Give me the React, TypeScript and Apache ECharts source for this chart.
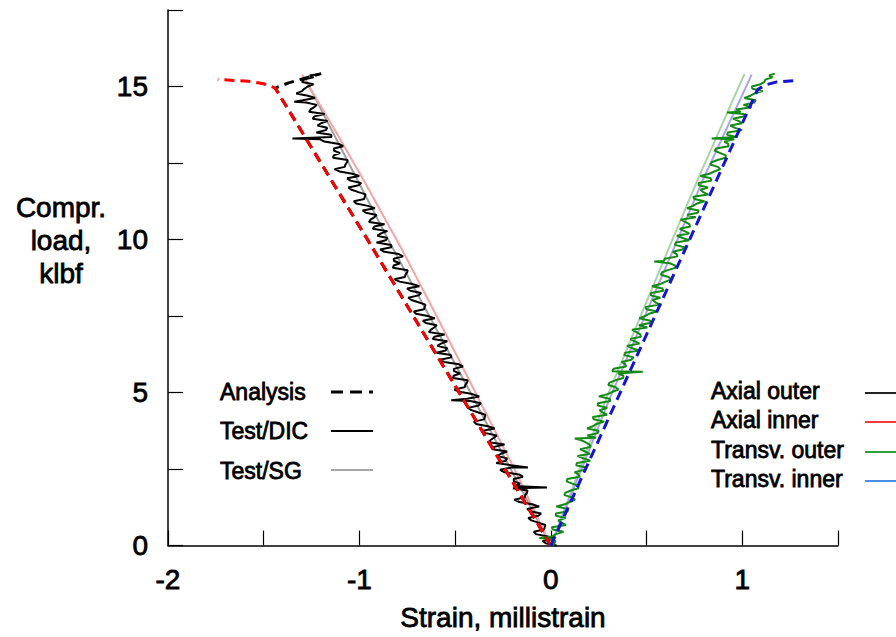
import React, { useEffect, useRef } from "react";
import * as echarts from "echarts";

// ---- Axis / tick data ----
const xTickLabels = [-2, -1, 0, 1];
const yTickLabels = [0, 5, 10, 15];

// ---- Analysis (dashed) : [strain, load] ----
const analysisAxialOuter = [
  [0, 0], [-0.479, 5], [-0.958, 10], [-1.44, 14.95], [-1.37, 15.12], [-1.28, 15.28], [-1.2, 15.42],
];
const analysisAxialInner = [
  [0, 0], [-0.479, 5], [-0.958, 10], [-1.44, 14.95], [-1.5, 15.09], [-1.58, 15.17], [-1.74, 15.23],
];
const analysisTransvInner = [
  [0, 0], [0.3625, 5], [0.725, 10], [1.08, 14.9], [1.12, 15.05], [1.18, 15.15], [1.29, 15.2],
];

// ---- Test / SG (light solid) ----
const sgAxialOuter = [[0, 0], [-0.21, 2.5], [-0.42, 5.0], [-0.85, 10.0], [-1.283, 15.25]];
const sgAxialInner = [
  [0, 0], [-0.19, 2.5], [-0.381, 4.84], [-0.58, 7.3], [-0.78, 9.7], [-0.98, 11.96], [-1.14, 13.7], [-1.3, 15.39],
];
const sgTransvOuter = [[0, 0], [0.15, 2.5], [0.292, 4.84], [0.635, 10.0], [0.767, 11.96], [1.012, 15.42]];
const sgTransvInner = [[0, 0], [0.16, 2.5], [0.31, 4.84], [0.662, 10.0], [0.8, 12.03], [1.049, 15.39]];

// ---- Test / DIC (noisy solid) : [strain, load] ----
const dicAxialOuter = [
  [0.03, 0], [-0.027, 0.075], [-0.043, 0.15], [0.02, 0.225], [-0.016, 0.3], [-0.078, 0.375], [-0.089, 0.45],
  [-0.036, 0.525], [-0.032, 0.6], [-0.029, 0.675], [-0.065, 0.75], [-0.102, 0.825], [-0.118, 0.9],
  [-0.065, 0.975], [-0.051, 1.05], [-0.108, 1.125], [-0.124, 1.2], [-0.061, 1.275], [-0.097, 1.35],
  [-0.164, 1.425], [-0.191, 1.5], [-0.137, 1.575], [-0.134, 1.65], [-0.125, 1.725], [-0.122, 1.8],
  [-0.198, 1.875], [-0.02, 1.9], [-0.195, 1.95], [-0.161, 2.025], [-0.193, 2.1], [-0.194, 2.175],
  [-0.146, 2.25], [-0.167, 2.325], [-0.244, 2.4], [-0.265, 2.475], [-0.207, 2.55], [-0.12, 2.55],
  [-0.208, 2.625], [-0.285, 2.7], [-0.236, 2.775], [-0.228, 2.85], [-0.279, 2.925], [-0.261, 3.0],
  [-0.228, 3.075], [-0.304, 3.15], [-0.296, 3.225], [-0.242, 3.3], [-0.324, 3.375], [-0.315, 3.45],
  [-0.297, 3.525], [-0.283, 3.6], [-0.34, 3.675], [-0.356, 3.75], [-0.293, 3.825], [-0.329, 3.9],
  [-0.391, 3.975], [-0.402, 4.05], [-0.349, 4.125], [-0.345, 4.2], [-0.342, 4.275], [-0.378, 4.35],
  [-0.415, 4.425], [-0.432, 4.5], [-0.378, 4.575], [-0.365, 4.65], [-0.421, 4.725], [-0.52, 4.75],
  [-0.438, 4.8], [-0.374, 4.875], [-0.411, 4.95], [-0.477, 5.025], [-0.504, 5.1], [-0.45, 5.175],
  [-0.447, 5.25], [-0.438, 5.325], [-0.435, 5.4], [-0.511, 5.475], [-0.508, 5.55], [-0.474, 5.625],
  [-0.506, 5.7], [-0.507, 5.775], [-0.459, 5.85], [-0.48, 5.925], [-0.557, 6.0], [-0.579, 6.075],
  [-0.52, 6.15], [-0.522, 6.225], [-0.598, 6.3], [-0.55, 6.375], [-0.541, 6.45], [-0.593, 6.525],
  [-0.574, 6.6], [-0.541, 6.675], [-0.617, 6.75], [-0.609, 6.825], [-0.555, 6.9], [-0.637, 6.975],
  [-0.628, 7.05], [-0.61, 7.125], [-0.596, 7.2], [-0.653, 7.275], [-0.669, 7.35], [-0.606, 7.425],
  [-0.643, 7.5], [-0.704, 7.575], [-0.716, 7.65], [-0.662, 7.725], [-0.659, 7.8], [-0.655, 7.875],
  [-0.692, 7.95], [-0.728, 8.025], [-0.745, 8.1], [-0.691, 8.175], [-0.678, 8.25], [-0.734, 8.325],
  [-0.751, 8.4], [-0.687, 8.475], [-0.724, 8.55], [-0.79, 8.625], [-0.817, 8.7], [-0.763, 8.775],
  [-0.76, 8.85], [-0.751, 8.925], [-0.748, 9.0], [-0.825, 9.075], [-0.821, 9.15], [-0.788, 9.225],
  [-0.819, 9.3], [-0.821, 9.375], [-0.772, 9.45], [-0.794, 9.525], [-0.87, 9.6], [-0.892, 9.675],
  [-0.833, 9.75], [-0.835, 9.825], [-0.911, 9.9], [-0.863, 9.975], [-0.854, 10.05], [-0.906, 10.125],
  [-0.887, 10.2], [-0.854, 10.275], [-0.93, 10.35], [-0.922, 10.425], [-0.869, 10.5], [-0.95, 10.575],
  [-0.942, 10.65], [-0.923, 10.725], [-0.91, 10.8], [-0.966, 10.875], [-0.983, 10.95], [-0.919, 11.025],
  [-0.956, 11.1], [-1.017, 11.175], [-1.029, 11.25], [-0.975, 11.325], [-0.972, 11.4], [-0.968, 11.475],
  [-1.005, 11.55], [-1.041, 11.625], [-1.058, 11.7], [-1.004, 11.775], [-0.991, 11.85], [-1.047, 11.925],
  [-1.064, 12.0], [-1.001, 12.075], [-1.037, 12.15], [-1.104, 12.225], [-1.13, 12.3], [-1.077, 12.375],
  [-1.073, 12.45], [-1.065, 12.525], [-1.061, 12.6], [-1.138, 12.675], [-1.134, 12.75], [-1.101, 12.825],
  [-1.132, 12.9], [-1.134, 12.975], [-1.085, 13.05], [-1.107, 13.125], [-1.183, 13.2], [-1.205, 13.275],
  [-1.35, 13.3], [-1.146, 13.35], [-1.148, 13.425], [-1.225, 13.5], [-1.176, 13.575], [-1.168, 13.65],
  [-1.219, 13.725], [-1.201, 13.8], [-1.167, 13.875], [-1.244, 13.95], [-1.235, 14.025], [-1.182, 14.1],
  [-1.263, 14.175], [-1.255, 14.25], [-1.236, 14.325], [-1.223, 14.4], [-1.279, 14.475], [-1.34, 14.5],
  [-1.296, 14.55], [-1.232, 14.625], [-1.269, 14.7], [-1.33, 14.775], [-1.3, 14.85], [-1.288, 14.925],
  [-1.27, 15.0], [-1.24, 15.075], [-1.3, 15.15], [-1.29, 15.225], [-1.24, 15.3], [-1.26, 15.36], [-1.2, 15.42],
];
const dicTransvOuter = [
  [0.01, 0], [0.019, 0.075], [0.024, 0.15], [-0.007, 0.225], [-0.06, 0.25], [0.007, 0.3], [0.027, 0.375],
  [0.066, 0.45], [0.01, 0.525], [0.005, 0.6], [0.079, 0.675], [0.054, 0.75], [0.038, 0.825], [0.077, 0.9],
  [0.027, 0.975], [0.026, 1.05], [0.09, 1.125], [0.085, 1.2], [0.029, 1.275], [0.073, 1.35], [0.098, 1.425],
  [0.127, 1.5], [0.111, 1.575], [0.071, 1.65], [0.075, 1.725], [0.104, 1.8], [0.144, 1.875], [0.143, 1.95],
  [0.112, 2.025], [0.082, 2.1], [0.086, 2.175], [0.151, 2.25], [0.145, 2.325], [0.124, 2.4], [0.174, 2.475],
  [0.183, 2.55], [0.132, 2.625], [0.137, 2.7], [0.206, 2.775], [0.17, 2.85], [0.14, 2.925], [0.204, 3.0],
  [0.179, 3.075], [0.153, 3.15], [0.208, 3.225], [0.202, 3.3], [0.182, 3.375], [0.156, 3.45], [0.125, 3.5],
  [0.236, 3.525], [0.191, 3.6], [0.245, 3.675], [0.25, 3.75], [0.189, 3.825], [0.219, 3.9], [0.238, 3.975],
  [0.279, 4.05], [0.224, 4.125], [0.219, 4.2], [0.294, 4.275], [0.27, 4.35], [0.255, 4.425], [0.295, 4.5],
  [0.245, 4.575], [0.246, 4.65], [0.311, 4.725], [0.306, 4.8], [0.251, 4.875], [0.297, 4.95], [0.322, 5.025],
  [0.353, 5.1], [0.339, 5.175], [0.3, 5.25], [0.306, 5.325], [0.337, 5.4], [0.378, 5.475], [0.379, 5.55],
  [0.35, 5.625], [0.48, 5.68], [0.321, 5.7], [0.327, 5.775], [0.393, 5.85], [0.389, 5.925], [0.37, 6.0],
  [0.421, 6.075], [0.432, 6.15], [0.383, 6.225], [0.389, 6.3], [0.46, 6.375], [0.426, 6.45], [0.397, 6.525],
  [0.463, 6.6], [0.439, 6.675], [0.415, 6.75], [0.471, 6.825], [0.467, 6.9], [0.448, 6.975], [0.424, 7.05],
  [0.504, 7.125], [0.46, 7.2], [0.516, 7.275], [0.521, 7.35], [0.462, 7.425], [0.493, 7.5], [0.513, 7.575],
  [0.554, 7.65], [0.499, 7.725], [0.495, 7.8], [0.571, 7.875], [0.546, 7.95], [0.532, 8.025], [0.572, 8.1],
  [0.522, 8.175], [0.523, 8.25], [0.588, 8.325], [0.583, 8.4], [0.528, 8.475], [0.574, 8.55], [0.599, 8.625],
  [0.629, 8.7], [0.614, 8.775], [0.575, 8.85], [0.58, 8.925], [0.61, 9.0], [0.65, 9.075], [0.651, 9.15],
  [0.621, 9.225], [0.54, 9.28], [0.591, 9.3], [0.596, 9.375], [0.662, 9.45], [0.657, 9.525], [0.637, 9.6],
  [0.687, 9.675], [0.698, 9.75], [0.648, 9.825], [0.653, 9.9], [0.723, 9.975], [0.688, 10.05], [0.658, 10.125],
  [0.723, 10.2], [0.698, 10.275], [0.673, 10.35], [0.728, 10.425], [0.723, 10.5], [0.702, 10.575],
  [0.677, 10.65], [0.757, 10.725], [0.712, 10.8], [0.767, 10.875], [0.772, 10.95], [0.712, 11.025],
  [0.742, 11.1], [0.763, 11.175], [0.803, 11.25], [0.749, 11.325], [0.744, 11.4], [0.821, 11.475],
  [0.795, 11.55], [0.782, 11.625], [0.821, 11.7], [0.773, 11.775], [0.772, 11.85], [0.839, 11.925],
  [0.835, 12.0], [0.781, 12.075], [0.828, 12.15], [0.854, 12.225], [0.885, 12.3], [0.872, 12.375],
  [0.833, 12.45], [0.84, 12.525], [0.871, 12.6], [0.912, 12.675], [0.914, 12.75], [0.885, 12.825],
  [0.856, 12.9], [0.863, 12.975], [0.929, 13.05], [0.926, 13.125], [0.906, 13.2], [0.958, 13.275],
  [0.84, 13.3], [0.968, 13.35], [0.921, 13.425], [0.925, 13.5], [0.999, 13.575], [0.962, 13.65],
  [0.937, 13.725], [0.999, 13.8], [0.979, 13.875], [0.951, 13.95], [1.012, 14.025], [1.009, 14.1],
  [0.92, 14.15], [0.991, 14.175], [0.968, 14.25], [1.049, 14.325], [1.006, 14.4], [1.063, 14.475],
  [1.07, 14.55], [1.011, 14.625], [1.043, 14.7], [1.065, 14.775], [1.107, 14.85], [1.053, 14.925],
  [1.05, 15.0], [1.095, 15.075], [1.116, 15.15], [1.12, 15.225], [1.158, 15.3], [1.14, 15.36], [1.17, 15.42],
];

// ---- Legends ----
const legendLeftLabels = ["Analysis", "Test/DIC", "Test/SG"];
const legendRightLabels = ["Axial outer", "Axial inner", "Transv. outer", "Transv. inner"];

const FONT = "'Liberation Sans', Arial, Helvetica, sans-serif";

export default function App() {
  const ref = useRef<HTMLDivElement>(null);

  useEffect(() => {
    if (!ref.current) return;
    const chart = echarts.init(ref.current, undefined, { renderer: "svg" });

    const line = (name: string, data: number[][], color: string, width: number, dashed?: boolean, z = 2) => ({
      name,
      type: "line",
      data,
      showSymbol: false,
      symbol: "none",
      z,
      lineStyle: { color, width, type: dashed ? [10, 6] : "solid" },
    });

    const heavy = { stroke: "#000", lineWidth: 0.8 };
    const leftLegendY = [392, 431, 471];
    const rightLegendY = [392, 421, 451, 480];
    const rightLegendColors = ["#222222", "#ee3a3a", "#33a033", "#4d8de8"];

    const graphic: any[] = [
      {
        type: "text",
        x: 61,
        y: 240,
        style: {
          text: "Compr.\nload,\nklbf",
          font: `28px ${FONT}`,
          fill: "#000",
          align: "center",
          verticalAlign: "middle",
          lineHeight: 33,
          ...heavy,
        },
      },
    ];
    legendLeftLabels.forEach((t, i) => {
      graphic.push({
        type: "text",
        x: 220,
        y: leftLegendY[i],
        style: { text: t, font: `23px ${FONT}`, fill: "#000", align: "left", verticalAlign: "middle", ...heavy },
      });
    });
    graphic.push(
      { type: "line", shape: { x1: 331, y1: 392, x2: 373, y2: 392 }, style: { stroke: "#000", lineWidth: 3, lineDash: [12, 7] } },
      { type: "line", shape: { x1: 331, y1: 431, x2: 373, y2: 431 }, style: { stroke: "#000", lineWidth: 1.8 } },
      { type: "line", shape: { x1: 331, y1: 470, x2: 373, y2: 470 }, style: { stroke: "#a8a8a8", lineWidth: 2 } }
    );
    legendRightLabels.forEach((t, i) => {
      graphic.push({
        type: "text",
        x: 711,
        y: rightLegendY[i] - 1,
        style: { text: t, font: `23px ${FONT}`, fill: "#000", align: "left", verticalAlign: "middle", ...heavy },
      });
      graphic.push({
        type: "line",
        shape: { x1: 865, y1: rightLegendY[i] + 1, x2: 900, y2: rightLegendY[i] + 1 },
        style: { stroke: rightLegendColors[i], lineWidth: 2 },
      });
    });

    const labelStyle = {
      fontFamily: FONT,
      fontSize: 28,
      color: "#000",
      textBorderColor: "#000",
      textBorderWidth: 0.8,
    };

    chart.setOption({
      animation: false,
      backgroundColor: "#fff",
      grid: { left: 168, right: 58, top: 10, bottom: 91, containLabel: false },
      xAxis: {
        type: "value",
        min: -2,
        max: 1.5,
        interval: 0.5,
        name: "Strain, millistrain",
        nameLocation: "middle",
        nameGap: 58,
        nameTextStyle: { ...labelStyle },
        axisLine: { show: true, onZero: false, lineStyle: { color: "#000", width: 1.5 } },
        axisTick: { show: true, inside: true, length: 15, lineStyle: { color: "#000", width: 1.2 } },
        axisLabel: {
          margin: 20,
          ...labelStyle,
          showMinLabel: true,
          formatter: (v: number) => {
            const r = Math.round(v);
            return Math.abs(v - r) < 1e-6 && xTickLabels.includes(r) ? String(r) : "";
          },
        },
        splitLine: { show: false },
      },
      yAxis: {
        type: "value",
        min: 0,
        max: 17.5,
        interval: 2.5,
        axisLine: { show: true, onZero: false, lineStyle: { color: "#000", width: 1.5 } },
        axisTick: { show: true, inside: true, length: 15, lineStyle: { color: "#000", width: 1.2 } },
        axisLabel: {
          margin: 20,
          ...labelStyle,
          formatter: (v: number) => {
            const r = Math.round(v);
            return Math.abs(v - r) < 1e-6 && yTickLabels.includes(r) ? String(r) : "";
          },
        },
        splitLine: { show: false },
      },
      graphic,
      series: [
        line("SG axial outer", sgAxialOuter, "#9e9e9e", 2, false, 1),
        line("SG axial inner", sgAxialInner, "#f5a5a5", 2, false, 1),
        line("SG transv outer", sgTransvOuter, "#a8d4a8", 2, false, 1),
        line("SG transv inner", sgTransvInner, "#a5a5ee", 2, false, 1),
        line("DIC axial outer", dicAxialOuter, "#000000", 2, false, 2),
        line("DIC transv outer", dicTransvOuter, "#138a13", 2, false, 2),
        line("Analysis axial outer", analysisAxialOuter, "#000000", 3, true, 3),
        line("Analysis axial inner", analysisAxialInner, "#ff0000", 3, true, 4),
        line("Analysis transv inner", analysisTransvInner, "#1414d2", 3, true, 4),
      ],
    });

    return () => chart.dispose();
  }, []);

  return (
    <div
      ref={ref}
      style={{ position: "fixed", left: 0, top: 0, width: 896, height: 637, background: "#fff" }}
    />
  );
}
